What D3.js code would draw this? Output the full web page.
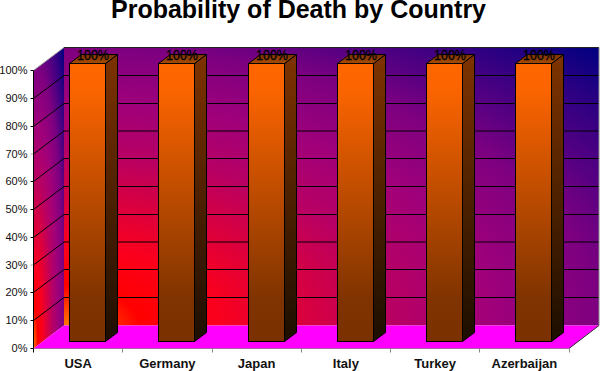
<!DOCTYPE html>
<html>
<head>
<meta charset="utf-8">
<script src="https://cdn.jsdelivr.net/npm/d3@7"></script>
<style>
  html, body { margin: 0; padding: 0; background: #fff; }
  svg { display: block; font-family: "Liberation Sans", Arial, sans-serif; }
</style>
</head>
<body>
<svg id="chart" width="600" height="371"></svg>
<script>
// data
const countries = ["USA", "Germany", "Japan", "Italy", "Turkey", "Azerbaijan"];
const probability = [100, 100, 100, 100, 100, 100];
const yTicks = [0, 10, 20, 30, 40, 50, 60, 70, 80, 90, 100];
const softTicks = [30, 70]; // these gridlines fall between pixels in the original

// 3d box settings
const width = 600, height = 371;
const depthX = 30.5, depthY = 23;
const barW = 36, barDX = 12, barDY = 9;
const barShiftX = 9.4, barShiftY = 7;

const svg = d3.select("#chart");

const y = d3.scaleLinear().domain([0, 100]).range([348.5, 70.5]);
const x = d3.scaleBand().domain(countries).range([33.5, 569]);
const snap = v => softTicks.includes(v) ? Math.round(y(v)) : Math.floor(y(v)) + 0.5;

// gradients
const defs = svg.append("defs");

function linear(id, stops) {
  const g = defs.append("linearGradient").attr("id", id)
    .attr("x1", 0).attr("y1", 0).attr("x2", 0).attr("y2", 1);
  stops.forEach(s => g.append("stop").attr("offset", s[0]).attr("stop-color", s[1]));
}

const wallGrad = defs.append("radialGradient").attr("id", "wall")
  .attr("cx", 0).attr("cy", 1).attr("fx", 0).attr("fy", 1).attr("r", 1.4142);
[[0, "#ff7800"], [0.1, "#ff0000"], [0.205, "#fa001e"], [0.325, "#d70041"], [0.44, "#b70064"],
 [0.566, "#a0007a"], [0.707, "#7d0080"], [0.785, "#5a0082"], [0.884, "#320082"], [1, "#000080"]]
  .forEach(s => wallGrad.append("stop").attr("offset", s[0]).attr("stop-color", s[1]));

linear("barFront", [[0, "#ff6600"], [0.1, "#fa6400"], [0.85, "#7f3300"], [1, "#7a3100"]]);
linear("barSide", [[0, "#7f3300"], [1, "#1c0e00"]]);
linear("barTop", [[0, "#7a3100"], [1, "#a84d00"]]);

// back wall
const backX0 = x.range()[0] + depthX, backX1 = 599;
svg.append("rect")
  .attr("x", backX0).attr("y", y(100) - depthY)
  .attr("width", backX1 - backX0).attr("height", y(0) - y(100))
  .attr("fill", "url(#wall)");

// left wall, same gradient sheared
svg.append("rect")
  .attr("transform", `matrix(1,${-depthY / depthX},0,1,${x.range()[0]},${y(0)})`)
  .attr("x", 0).attr("y", y(100) - y(0))
  .attr("width", depthX).attr("height", y(0) - y(100))
  .attr("fill", "url(#wall)");

// gridlines
const grid = svg.append("g").attr("fill", "none").attr("stroke", "#000");
yTicks.filter(v => v > 0 && v < 100).forEach(v => {
  grid.append("path")
    .attr("d", `M${x.range()[0]},${snap(v)}L${backX0},${snap(v) - depthY}H${backX1}`);
});

// wall edges
svg.append("path")
  .attr("d", `M${backX0},${y(100) - depthY}H${backX1}`)
  .attr("stroke", "#222").attr("fill", "none");
svg.append("path")
  .attr("d", `M${x.range()[0]},${y(100)}L${backX0},${y(100) - depthY}`)
  .attr("stroke", "#999").attr("fill", "none");
svg.append("path")
  .attr("d", `M${backX1},${y(100) - depthY}V${y(0) - depthY}`)
  .attr("stroke", "#888").attr("fill", "none");

// floor
svg.append("path")
  .attr("d", `M${x.range()[0]},${y(0)}L${backX0},${y(0) - depthY}H${backX1}L${x.range()[1]},${y(0)}Z`)
  .attr("fill", "#ff00ff");
svg.append("path")
  .attr("d", `M${x.range()[1]},${y(0)}L${backX1},${y(0) - depthY}`)
  .attr("stroke", "#333").attr("fill", "none");

// bars
const bars = svg.append("g").attr("stroke", "#000").attr("stroke-width", 1)
  .selectAll("g")
  .data(countries.map((c, i) => ({ country: c, value: probability[i] })))
  .join("g")
  .attr("transform", d => {
    const left = x(d.country) + x.bandwidth() / 2 - barW / 2 + barShiftX;
    return `translate(${Math.floor(left) + 0.5},0)`;
  });

const barTopY = d => y(d.value) - barShiftY;
const barBottomY = y(0) - barShiftY;

bars.append("path")
  .attr("fill", "url(#barSide)")
  .attr("d", d => `M${barW},${barTopY(d)}l${barDX},${-barDY}V${barBottomY - barDY}l${-barDX},${barDY}Z`);
bars.append("path")
  .attr("fill", "url(#barTop)")
  .attr("d", d => `M0,${barTopY(d)}l${barDX},${-barDY}h${barW}l${-barDX},${barDY}Z`);
bars.append("rect")
  .attr("fill", "url(#barFront)")
  .attr("y", barTopY)
  .attr("width", barW)
  .attr("height", d => barBottomY - barTopY(d));

// value labels
bars.append("text")
  .attr("x", barW / 2 + 5.5)
  .attr("y", d => barTopY(d) - 3.5)
  .attr("text-anchor", "middle")
  .attr("stroke", "#000")
  .attr("stroke-width", 0.3)
  .attr("fill", "#000")
  .attr("font-size", 14.5)
  .attr("textLength", 32)
  .attr("lengthAdjust", "spacingAndGlyphs")
  .text(d => d.value + "%");

// y axis
const yAxis = svg.append("g")
  .attr("transform", `translate(${x.range()[0]},0)`)
  .call(d3.axisLeft(y).tickValues(yTicks).tickSize(3).tickPadding(3).tickFormat(d => d + "%"));
yAxis.attr("font-family", null).attr("font-size", 11);
yAxis.select(".domain").remove();
yAxis.selectAll(".tick")
  .attr("transform", d => `translate(0,${snap(d)})`);
yAxis.selectAll(".tick line")
  .attr("stroke", d => softTicks.includes(d) ? "#aaa" : "#000");
yAxis.selectAll(".tick text").attr("fill", "#111");

svg.append("path")
  .attr("d", `M${x.range()[0]},${y(100)}V${y(0)}`)
  .attr("stroke", "#000").attr("fill", "none");
svg.append("path")
  .attr("d", `M${x.range()[0]},${y(0)}H${x.range()[1]}`)
  .attr("stroke", "#b060b0").attr("fill", "none");

// x axis ticks sit on the band edges, labels in the middle
const xEdges = countries.map(c => x(c)).concat(x.range()[1]);
svg.append("g").selectAll("line")
  .data(xEdges)
  .join("line")
  .attr("x1", d => Math.floor(d) + 0.5).attr("x2", d => Math.floor(d) + 0.5)
  .attr("y1", y(0)).attr("y2", y(0) + 4)
  .attr("stroke", (d, i) => i === 0 ? "#000" : "#888");

svg.append("g").selectAll("text")
  .data(countries)
  .join("text")
  .attr("x", d => x(d) + x.bandwidth() / 2)
  .attr("y", 367.5)
  .attr("text-anchor", "middle")
  .attr("font-size", 13)
  .attr("font-weight", "bold")
  .attr("fill", "#111")
  .text(d => d);

// title
svg.append("text")
  .attr("x", 298.5)
  .attr("y", 18)
  .attr("text-anchor", "middle")
  .attr("font-size", 25)
  .attr("font-weight", "bold")
  .attr("fill", "#000")
  .text("Probability of Death by Country");
</script>
</body>
</html>
